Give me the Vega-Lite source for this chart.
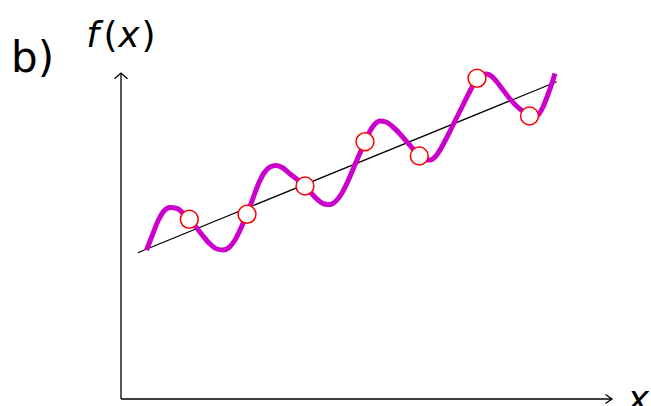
{
  "$schema": "https://vega.github.io/schema/vega-lite/v6.json",
  "width": 651,
  "height": 406,
  "autosize": {"type": "none"},
  "padding": 0,
  "background": "white",
  "config": {"view": {"stroke": null}},
  "datasets": {
    "axes": [
      {"x": 0, "y": 0, "x2": 0, "y2": 326},
      {"x": 0, "y": 0, "x2": 491, "y2": 0}
    ],
    "xtip": [{"x": 491, "y": 0}],
    "ytip": [{"x": 0, "y": 326}],
    "fit": [{"x": 16.7, "y": 146.3}, {"x": 435.7, "y": 317.3}],
    "curve": [
      {"x": 25.5, "y": 149}, {"x": 31, "y": 163}, {"x": 37, "y": 178}, {"x": 43, "y": 188},
      {"x": 49, "y": 191.5}, {"x": 56, "y": 190.5}, {"x": 62, "y": 186}, {"x": 68, "y": 180},
      {"x": 75, "y": 172}, {"x": 82, "y": 163}, {"x": 89, "y": 155}, {"x": 96, "y": 150},
      {"x": 102, "y": 149}, {"x": 108, "y": 151.5}, {"x": 114, "y": 159}, {"x": 120, "y": 171},
      {"x": 126, "y": 185}, {"x": 131, "y": 198}, {"x": 137, "y": 214}, {"x": 143, "y": 226},
      {"x": 149, "y": 232}, {"x": 155, "y": 233.5}, {"x": 162, "y": 231}, {"x": 169, "y": 225},
      {"x": 177, "y": 219}, {"x": 184, "y": 213}, {"x": 191, "y": 205}, {"x": 197, "y": 199},
      {"x": 203, "y": 195}, {"x": 209, "y": 194.5}, {"x": 215, "y": 198}, {"x": 221, "y": 206},
      {"x": 227, "y": 218}, {"x": 233, "y": 232}, {"x": 239, "y": 246}, {"x": 244, "y": 257},
      {"x": 249, "y": 268}, {"x": 254, "y": 275}, {"x": 259, "y": 278}, {"x": 265, "y": 277},
      {"x": 272, "y": 272}, {"x": 279, "y": 265}, {"x": 286, "y": 257}, {"x": 293, "y": 249},
      {"x": 299, "y": 243}, {"x": 304, "y": 239.5}, {"x": 309, "y": 239}, {"x": 314, "y": 242},
      {"x": 319, "y": 249}, {"x": 325, "y": 260}, {"x": 331, "y": 272}, {"x": 337, "y": 284},
      {"x": 343, "y": 296}, {"x": 349, "y": 308}, {"x": 355, "y": 319}, {"x": 361, "y": 324},
      {"x": 366, "y": 325}, {"x": 371, "y": 322.5}, {"x": 376, "y": 317}, {"x": 382, "y": 309},
      {"x": 389, "y": 300}, {"x": 396, "y": 292.5}, {"x": 403, "y": 287}, {"x": 409, "y": 283},
      {"x": 414, "y": 282}, {"x": 418, "y": 285}, {"x": 422, "y": 292}, {"x": 426, "y": 302},
      {"x": 430, "y": 313}, {"x": 434, "y": 325.5}
    ],
    "samples": [
      {"x": 68.3, "y": 179.7}, {"x": 126, "y": 184.7}, {"x": 184, "y": 213},
      {"x": 244, "y": 257.3}, {"x": 298.3, "y": 243}, {"x": 356, "y": 320.7},
      {"x": 408.5, "y": 283}
    ],
    "italic": [
      {"x": -28.5, "y": 352, "t": "f"},
      {"x": 8, "y": 352, "t": "x"},
      {"x": 517.5, "y": -11.7, "t": "x"}
    ],
    "upright": [
      {"x": -10.5, "y": 352, "t": "("},
      {"x": 27.5, "y": 352, "t": ")"}
    ],
    "panel": [{"x": -88.5, "y": 327, "t": "b)"}]
  },
  "encoding": {
    "x": {"field": "x", "type": "quantitative", "scale": {"domain": [-121, 530], "nice": false, "zero": false}, "axis": null},
    "y": {"field": "y", "type": "quantitative", "scale": {"domain": [-7, 399], "nice": false, "zero": false}, "axis": null}
  },
  "layer": [
    {
      "data": {"name": "axes"},
      "mark": {"type": "rule", "color": "black", "strokeWidth": 1.3},
      "encoding": {"x2": {"field": "x2"}, "y2": {"field": "y2"}}
    },
    {
      "data": {"name": "xtip"},
      "mark": {"type": "point", "shape": "M-1,-0.7L0,0L-1,0.7", "size": 169, "filled": false, "stroke": "black", "strokeWidth": 1.3, "opacity": 1},
      "encoding": {}
    },
    {
      "data": {"name": "ytip"},
      "mark": {"type": "point", "shape": "M-1,0.9L0,0L1,0.9", "size": 169, "filled": false, "stroke": "black", "strokeWidth": 1.3, "opacity": 1},
      "encoding": {}
    },
    {
      "data": {"name": "fit"},
      "mark": {"type": "line", "color": "black", "strokeWidth": 1.2},
      "encoding": {}
    },
    {
      "data": {"name": "curve"},
      "mark": {"type": "line", "color": "#CC00CC", "strokeWidth": 5, "interpolate": "monotone", "strokeCap": "butt"},
      "encoding": {}
    },
    {
      "data": {"name": "samples"},
      "mark": {"type": "point", "shape": "circle", "size": 320, "filled": true, "fill": "white", "stroke": "#FF0000", "strokeWidth": 1.5, "opacity": 1, "fillOpacity": 1},
      "encoding": {}
    },
    {
      "data": {"name": "italic"},
      "mark": {"type": "text", "font": "DejaVu Sans", "fontStyle": "italic", "fontSize": 36, "align": "center", "baseline": "alphabetic", "color": "black"},
      "encoding": {"text": {"field": "t"}}
    },
    {
      "data": {"name": "upright"},
      "mark": {"type": "text", "font": "DejaVu Sans", "fontSize": 36, "align": "center", "baseline": "alphabetic", "color": "black"},
      "encoding": {"text": {"field": "t"}}
    },
    {
      "data": {"name": "panel"},
      "mark": {"type": "text", "font": "DejaVu Sans", "fontSize": 42, "align": "center", "baseline": "alphabetic", "color": "black"},
      "encoding": {"text": {"field": "t"}}
    }
  ]
}
